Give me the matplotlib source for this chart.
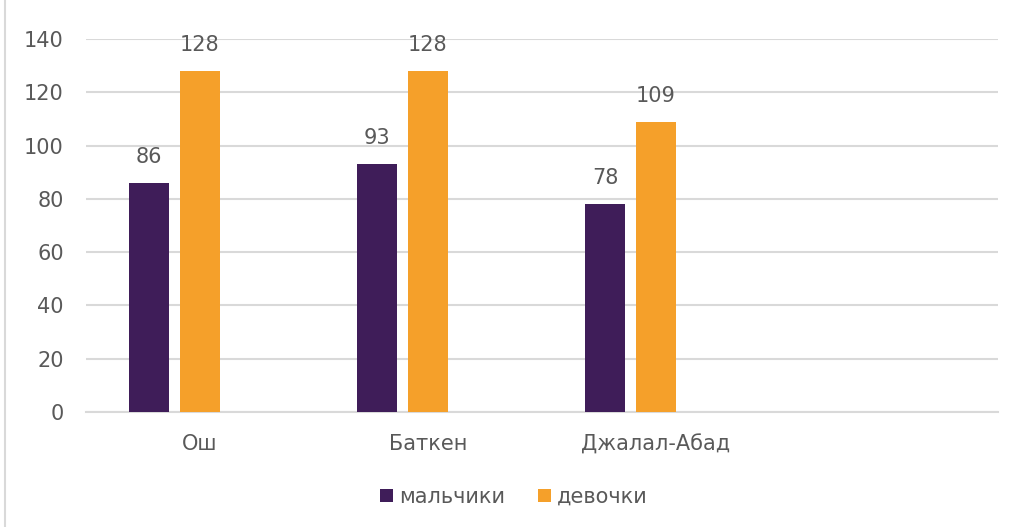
import matplotlib.pyplot as plt
import numpy as np

# data
regions = ["Ош", "Баткен", "Джалал-Абад", ""]
boys = [86, 93, 78, None]
girls = [128, 128, 109, None]
series_names = ["мальчики", "девочки"]
colors = ["#3f1d59", "#f5a02a"]

plt.rcParams['font.family'] = ['DejaVu Sans']
text_color = "#595959"
fs = 15

fig = plt.figure(figsize=(10.22, 5.27), dpi=100)
ax = fig.add_axes([86 / 1022, 1 - 412 / 527, 912 / 1022, 373 / 527])

x = np.arange(len(regions))
width = 40 / 228
step = 51 / 228  # bar width plus gap; a third (empty) slot sits to the right

for i, (vals, name, c) in enumerate(zip([boys, girls], series_names, colors)):
    xs = [xi + (i - 1) * step for xi, v in zip(x, vals) if v is not None]
    vs = [v for v in vals if v is not None]
    bars = ax.bar(xs, vs, width=width, color=c, label=name, zorder=3)
    for b, v in zip(bars, vs):
        ax.text(b.get_x() + b.get_width() / 2, v + 6, str(v), ha="center",
                va="bottom", fontsize=fs, color=text_color)

ax.set_xlim(-0.5, len(regions) - 0.5)
ax.set_ylim(0, 140)
ax.set_yticks(range(0, 141, 20))
ax.set_xticks(x)
ax.set_xticklabels(regions)
ax.yaxis.grid(True, color="#d9d9d9", linewidth=1.5, zorder=0)
ax.tick_params(axis="both", length=0, labelsize=fs, labelcolor=text_color)
ax.tick_params(axis="y", pad=16)
ax.tick_params(axis="x", pad=16)
for s in ["top", "right", "left"]:
    ax.spines[s].set_visible(False)
ax.spines["bottom"].set_color("#d9d9d9")
ax.spines["bottom"].set_linewidth(1.5)

leg = fig.legend(loc="center", bbox_to_anchor=(514 / 1022, 1 - 497 / 527), ncol=2,
                 frameon=False, fontsize=fs, handlelength=0.6, handleheight=0.6,
                 handletextpad=0.3, columnspacing=1.6)
for t in leg.get_texts():
    t.set_color(text_color)

# thin chart-area border on the left edge
fig.add_artist(plt.Line2D([5 / 1022, 5 / 1022], [0, 1], color="#d9d9d9", linewidth=1.5))

fig.savefig("out.png", dpi=100)
